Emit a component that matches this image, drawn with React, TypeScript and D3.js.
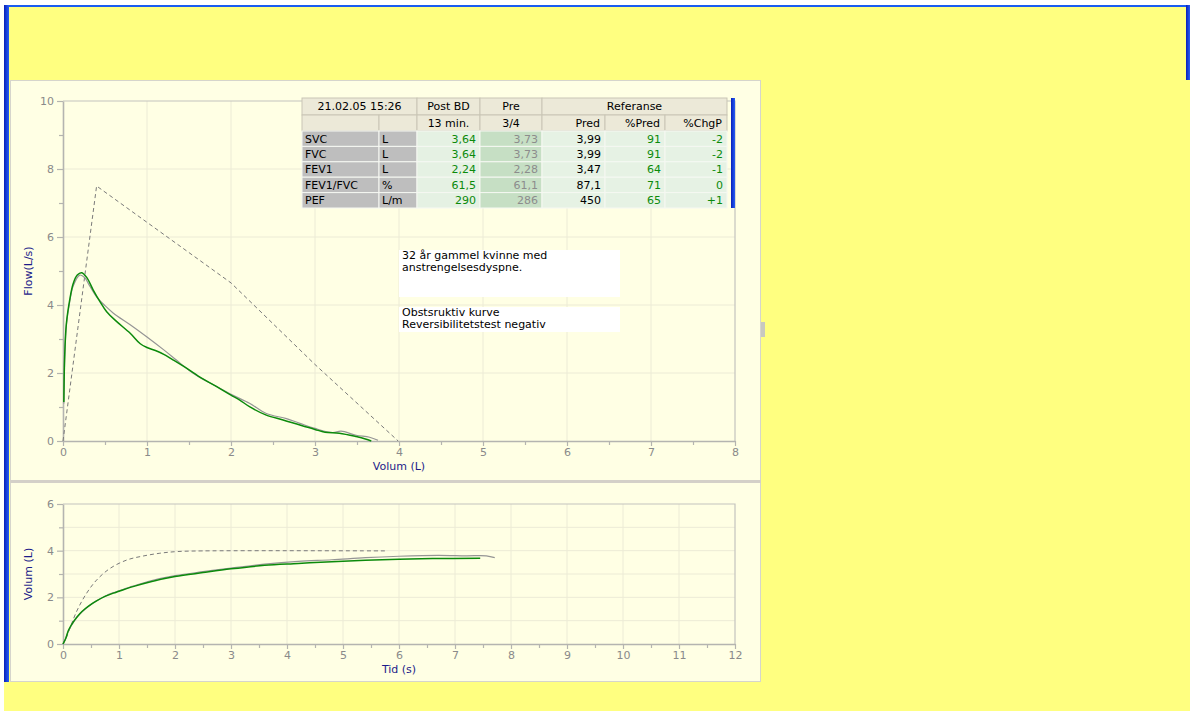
import React, { useRef, useEffect } from 'react';
import * as d3 from 'd3';

// table contents
const paramNames = ['SVC', 'FVC', 'FEV1', 'FEV1/FVC', 'PEF'];
const paramUnits = ['L', 'L', 'L', '%', 'L/m'];
const postBD = ['3,64', '3,64', '2,24', '61,5', '290'];
const preValues = ['3,73', '3,73', '2,28', '61,1', '286'];
const predValues = ['3,99', '3,99', '3,47', '87,1', '450'];
const pctPred = ['91', '91', '64', '71', '65'];
const pctChgP = ['-2', '-2', '-1', '0', '+1'];
const headerTop = ['21.02.05 15:26', 'Post BD', 'Pre', 'Referanse'];
const headerSub = ['', '', '13 min.', '3/4', 'Pred', '%Pred', '%ChgP'];

const noteLines1 = ['32 år gammel kvinne med', 'anstrengelsesdyspne.'];
const noteLines2 = ['Obstsruktiv kurve', 'Reversibilitetstest negativ'];

// flow-volume (L, L/s)
const flowPost: [number, number][] = [
  [0.01, 1.15], [0.02, 2.5], [0.04, 3.45], [0.08, 4.15], [0.12, 4.62], [0.17, 4.88],
  [0.22, 4.95], [0.28, 4.82], [0.36, 4.44], [0.44, 4.1], [0.52, 3.8], [0.64, 3.51],
  [0.8, 3.17], [0.92, 2.86], [1.0, 2.75], [1.1, 2.66], [1.2, 2.55], [1.3, 2.4],
  [1.47, 2.14], [1.65, 1.85], [1.83, 1.6], [2.0, 1.35], [2.1, 1.21], [2.22, 1.01],
  [2.42, 0.76], [2.62, 0.62], [2.82, 0.47], [3.0, 0.34], [3.12, 0.26], [3.29, 0.23],
  [3.49, 0.13], [3.6, 0.06], [3.67, 0.0],
];
const flowPre: [number, number][] = [
  [0.01, 1.1], [0.02, 2.4], [0.04, 3.4], [0.08, 4.1], [0.12, 4.55], [0.2, 4.88],
  [0.26, 4.8], [0.32, 4.55], [0.4, 4.24], [0.5, 3.98], [0.6, 3.76], [0.8, 3.42],
  [1.0, 3.06], [1.2, 2.68], [1.35, 2.38], [1.5, 2.08], [1.6, 1.91], [1.8, 1.64],
  [2.02, 1.35], [2.22, 1.11], [2.42, 0.81], [2.66, 0.66], [2.82, 0.52], [3.0, 0.37],
  [3.21, 0.25], [3.31, 0.29], [3.49, 0.17], [3.65, 0.11], [3.75, 0.02],
];
const flowPred: [number, number][] = [[0, 0], [0.4, 7.5], [2.0, 4.65], [3.0, 2.25], [3.99, 0]];

// volume-time (s, L)
const volPost: [number, number][] = [
  [0, 0], [0.05, 0.25], [0.1, 0.6], [0.2, 1.0], [0.3, 1.3], [0.4, 1.52], [0.5, 1.7],
  [0.6, 1.85], [0.75, 2.04], [0.9, 2.18], [1.0, 2.26], [1.25, 2.46], [1.55, 2.66],
  [2.0, 2.89], [2.5, 3.06], [3.0, 3.22], [3.6, 3.37], [4.2, 3.45], [4.8, 3.53],
  [5.4, 3.59], [6.0, 3.63], [6.6, 3.66], [7.45, 3.67],
];
const volPre: [number, number][] = [
  [0, 0], [0.05, 0.24], [0.1, 0.58], [0.2, 0.98], [0.3, 1.28], [0.4, 1.5], [0.5, 1.69],
  [0.6, 1.85], [0.75, 2.05], [0.9, 2.2], [1.0, 2.28], [1.25, 2.48], [1.55, 2.7],
  [2.0, 2.93], [2.5, 3.1], [3.0, 3.25], [3.6, 3.42], [4.2, 3.54], [4.8, 3.61],
  [5.4, 3.7], [6.0, 3.76], [6.7, 3.8], [7.2, 3.78], [7.56, 3.78], [7.71, 3.7],
];
const volPred: [number, number][] = [
  [0, 0], [0.065, 0.31], [0.24, 1.38], [0.42, 2.17], [0.6, 2.74], [0.84, 3.24],
  [1.14, 3.6], [1.43, 3.77], [1.73, 3.89], [2.03, 3.96], [2.5, 3.99], [5.8, 3.99],
];

const flowXMajor = [0, 1, 2, 3, 4, 5, 6, 7, 8];
const flowXMinor = [0.5, 1.5, 2.5, 3.5, 4.5, 5.5, 6.5, 7.5];
const flowYMajor = [0, 2, 4, 6, 8, 10];
const flowYMinor = [1, 3, 5, 7, 9];
const timeXMajor = [0, 1, 2, 3, 4, 5, 6, 7, 8, 9, 10, 11, 12];
const timeXMinor = [0.5, 1.5, 2.5, 3.5, 4.5, 5.5, 6.5, 7.5, 8.5, 9.5, 10.5, 11.5];
const volYMajor = [0, 2, 4, 6];
const volYMinor = [1, 3, 5];

const FONT = "Tahoma, 'DejaVu Sans', sans-serif";
const GREEN = '#0b8a0b';
const GRAY_CURVE = '#959595';
const GRID = '#ecebd6';
const AXIS = '#b4b4b0';
const TICK_TEXT = '#8a8a8a';
const TITLE = '#1c1c8a';

function drawPlot(svg, x, y, o) {
    const [xl, xr] = x.range();
    const [yb, yt] = y.range();
    const g = svg.append('g');

    g.append('g').selectAll('line').data(o.xGrid).join('line')
        .attr('x1', d => x(d)).attr('x2', d => x(d))
        .attr('y1', yb).attr('y2', yt)
        .attr('stroke', GRID);
    g.append('g').selectAll('line').data(o.yGrid).join('line')
        .attr('x1', xl).attr('x2', xr)
        .attr('y1', d => y(d)).attr('y2', d => y(d))
        .attr('stroke', GRID);

    // frame (top + right)
    g.append('path')
        .attr('d', `M${xl},${yt}H${xr}V${yb}`)
        .attr('fill', 'none').attr('stroke', '#c4c4be').attr('stroke-width', 1.2);

    const style = (sel) => {
        sel.attr('font-family', FONT).attr('font-size', 11);
        sel.select('.domain').attr('stroke', AXIS).attr('stroke-width', 1.6);
        sel.selectAll('.tick line').attr('stroke', AXIS).attr('stroke-width', 1.2);
        sel.selectAll('.tick text').attr('fill', TICK_TEXT);
    };

    g.append('g').attr('transform', `translate(0,${yb})`)
        .call(d3.axisBottom(x).tickValues(o.xMinor).tickSize(4).tickFormat(() => ''))
        .call(style).call(s => s.select('.domain').remove());
    g.append('g').attr('transform', `translate(${xl},0)`)
        .call(d3.axisLeft(y).tickValues(o.yMinor).tickSize(4).tickFormat(() => ''))
        .call(style).call(s => s.select('.domain').remove());
    g.append('g').attr('transform', `translate(0,${yb})`)
        .call(d3.axisBottom(x).tickValues(o.xMajor).tickSize(5).tickPadding(2).tickSizeOuter(0).tickFormat(d3.format('d')))
        .call(style);
    g.append('g').attr('transform', `translate(${xl},0)`)
        .call(d3.axisLeft(y).tickValues(o.yMajor).tickSize(6).tickPadding(3).tickSizeOuter(0).tickFormat(d3.format('d')))
        .call(style);

    g.append('text')
        .attr('x', (xl + xr) / 2).attr('y', yb + 29)
        .attr('text-anchor', 'middle')
        .attr('font-family', FONT).attr('font-size', 11).attr('fill', TITLE)
        .text(o.xTitle);
    g.append('text')
        .attr('transform', `translate(32,${(yb + yt) / 2}) rotate(-90)`)
        .attr('text-anchor', 'middle')
        .attr('font-family', FONT).attr('font-size', 11).attr('fill', TITLE)
        .text(o.yTitle);
}

function drawCurve(svg, x, y, data, color, width, dash, curve) {
    const line = d3.line<[number, number]>()
        .x(d => x(d[0]))
        .y(d => y(d[1]))
        .curve(curve);
    svg.append('path')
        .attr('d', line(data))
        .attr('fill', 'none')
        .attr('stroke', color)
        .attr('stroke-width', width)
        .attr('stroke-dasharray', dash)
        .attr('stroke-linejoin', 'round');
}

const App = () => {
    const svgRef = useRef<SVGSVGElement>(null);

    useEffect(() => {
        const svg = d3.select(svgRef.current);
        svg.selectAll('*').remove();

        // window chrome
        svg.append('rect').attr('width', 1190).attr('height', 711).attr('fill', '#ffff80');
        svg.append('rect').attr('width', 1190).attr('height', 5).attr('fill', '#ffffff');
        svg.append('rect').attr('width', 4).attr('height', 711).attr('fill', '#ffffff');
        svg.append('rect').attr('x', 4).attr('y', 5).attr('width', 1186).attr('height', 2).attr('fill', '#1a5cf0');
        const grad = svg.append('defs').append('linearGradient').attr('id', 'bluebar')
            .attr('x1', 0).attr('x2', 1).attr('y1', 0).attr('y2', 0);
        grad.append('stop').attr('offset', '0%').attr('stop-color', '#0a1fb8');
        grad.append('stop').attr('offset', '60%').attr('stop-color', '#1846e0');
        grad.append('stop').attr('offset', '100%').attr('stop-color', '#2a5cf0');
        svg.append('rect').attr('x', 4).attr('y', 5).attr('width', 5).attr('height', 677).attr('fill', 'url(#bluebar)');
        svg.append('rect').attr('x', 1186).attr('y', 5).attr('width', 4).attr('height', 75).attr('fill', 'url(#bluebar)');

        // panels
        svg.append('rect').attr('x', 10.5).attr('y', 80.5).attr('width', 750).attr('height', 400)
            .attr('fill', '#ffffe4').attr('stroke', '#d6d5cc');
        svg.append('rect').attr('x', 10.5).attr('y', 482.5).attr('width', 750).attr('height', 199)
            .attr('fill', '#ffffe4').attr('stroke', '#d6d5cc');
        svg.append('rect').attr('x', 10).attr('y', 480).attr('width', 751).attr('height', 3).attr('fill', '#d4d0c8');
        svg.append('rect').attr('x', 761).attr('y', 322).attr('width', 4).attr('height', 15).attr('fill', '#c8c8c0');

        // flow-volume plot
        const xF = d3.scaleLinear().domain([0, 8]).range([63, 735]);
        const yF = d3.scaleLinear().domain([0, 10]).range([441, 101]);
        drawPlot(svg, xF, yF, {
            xGrid: flowXMajor.slice(1, -1), yGrid: [2, 4, 6, 8],
            xMajor: flowXMajor, xMinor: flowXMinor, yMajor: flowYMajor, yMinor: flowYMinor,
            xTitle: 'Volum (L)', yTitle: 'Flow(L/s)',
        });

        // notes
        const notes = [
            { y: 250, h: 47, lines: noteLines1 },
            { y: 307, h: 25, lines: noteLines2 },
        ];
        notes.forEach(n => {
            svg.append('rect').attr('x', 399).attr('y', n.y).attr('width', 221).attr('height', n.h).attr('fill', '#ffffff');
            n.lines.forEach((t, i) => {
                svg.append('text')
                    .attr('x', 402).attr('y', n.y + 9 + i * 12)
                    .attr('font-family', FONT).attr('font-size', 11).attr('fill', '#000')
                    .text(t);
            });
        });

        drawCurve(svg, xF, yF, flowPred, '#7a7a7a', 1, '4,3', d3.curveLinear);
        drawCurve(svg, xF, yF, flowPre, GRAY_CURVE, 1.2, null, d3.curveCatmullRom.alpha(0.5));
        drawCurve(svg, xF, yF, flowPost, GREEN, 1.5, null, d3.curveCatmullRom.alpha(0.5));

        // volume-time plot
        const xT = d3.scaleLinear().domain([0, 12]).range([63, 735]);
        const yT = d3.scaleLinear().domain([0, 6]).range([644, 504]);
        drawPlot(svg, xT, yT, {
            xGrid: timeXMajor.slice(1, -1), yGrid: [1, 2, 3, 4, 5],
            xMajor: timeXMajor, xMinor: timeXMinor, yMajor: volYMajor, yMinor: volYMinor,
            xTitle: 'Tid (s)', yTitle: 'Volum (L)',
        });
        drawCurve(svg, xT, yT, volPred, '#7a7a7a', 1, '4,3', d3.curveCatmullRom.alpha(0.5));
        drawCurve(svg, xT, yT, volPre, GRAY_CURVE, 1.2, null, d3.curveCatmullRom.alpha(0.5));
        drawCurve(svg, xT, yT, volPost, GREEN, 1.5, null, d3.curveCatmullRom.alpha(0.5));

        // results table
        const colX = [302, 379, 417, 480, 542, 605, 665, 727];
        const rowY0 = 98, h1 = 17, h2 = 16, rh = 15.4;
        const tbl = svg.append('g').attr('font-family', FONT).attr('font-size', 11);
        const HDR = '#ece9d8';
        const hdrTop = [[0, 2], [2, 3], [3, 4], [4, 7]];
        hdrTop.forEach(([a, b], i) => {
            tbl.append('rect').attr('x', colX[a]).attr('y', rowY0).attr('width', colX[b] - colX[a]).attr('height', h1)
                .attr('fill', HDR).attr('stroke', '#c9c5b5').attr('stroke-width', 1);
            tbl.append('text').attr('x', (colX[a] + colX[b]) / 2).attr('y', rowY0 + 12)
                .attr('text-anchor', 'middle').attr('fill', '#000').text(headerTop[i]);
        });
        headerSub.forEach((t, i) => {
            tbl.append('rect').attr('x', colX[i]).attr('y', rowY0 + h1).attr('width', colX[i + 1] - colX[i]).attr('height', h2)
                .attr('fill', HDR).attr('stroke', '#c9c5b5').attr('stroke-width', 1);
            if (t) {
                tbl.append('text').attr('x', i < 4 ? (colX[i] + colX[i + 1]) / 2 : colX[i + 1] - 5)
                    .attr('y', rowY0 + h1 + 12)
                    .attr('text-anchor', i < 4 ? 'middle' : 'end').attr('fill', '#000').text(t);
            }
        });
        const columns = [
            { vals: paramNames, bg: '#bebebe', color: '#000', align: 'start' },
            { vals: paramUnits, bg: '#bebebe', color: '#000', align: 'start' },
            { vals: postBD, bg: '#e5f1e3', color: GREEN, align: 'end' },
            { vals: preValues, bg: '#c6dfc4', color: '#8c8c8c', align: 'end' },
            { vals: predValues, bg: '#e6f2e4', color: '#000', align: 'end' },
            { vals: pctPred, bg: '#e6f2e4', color: GREEN, align: 'end' },
            { vals: pctChgP, bg: '#e6f2e4', color: GREEN, align: 'end' },
        ];
        const top = rowY0 + h1 + h2;
        columns.forEach((c, ci) => {
            c.vals.forEach((v, ri) => {
                const yy = top + ri * rh;
                tbl.append('rect').attr('x', colX[ci]).attr('y', yy).attr('width', colX[ci + 1] - colX[ci]).attr('height', rh)
                    .attr('fill', c.bg).attr('stroke', '#f6f8f2').attr('stroke-width', 1);
                tbl.append('text')
                    .attr('x', c.align === 'start' ? colX[ci] + 3 : colX[ci + 1] - 4)
                    .attr('y', yy + 11.5)
                    .attr('text-anchor', c.align).attr('fill', c.color).text(v);
            });
        });
        svg.append('rect').attr('x', 731).attr('y', rowY0).attr('width', 4).attr('height', h1 + h2 + rh * 5)
            .attr('fill', 'url(#bluebar)');
    }, []);

    return <svg ref={svgRef} width={1190} height={711} style={{ position: 'absolute', left: 0, top: 0, display: 'block' }}></svg>;
};

export default App;
